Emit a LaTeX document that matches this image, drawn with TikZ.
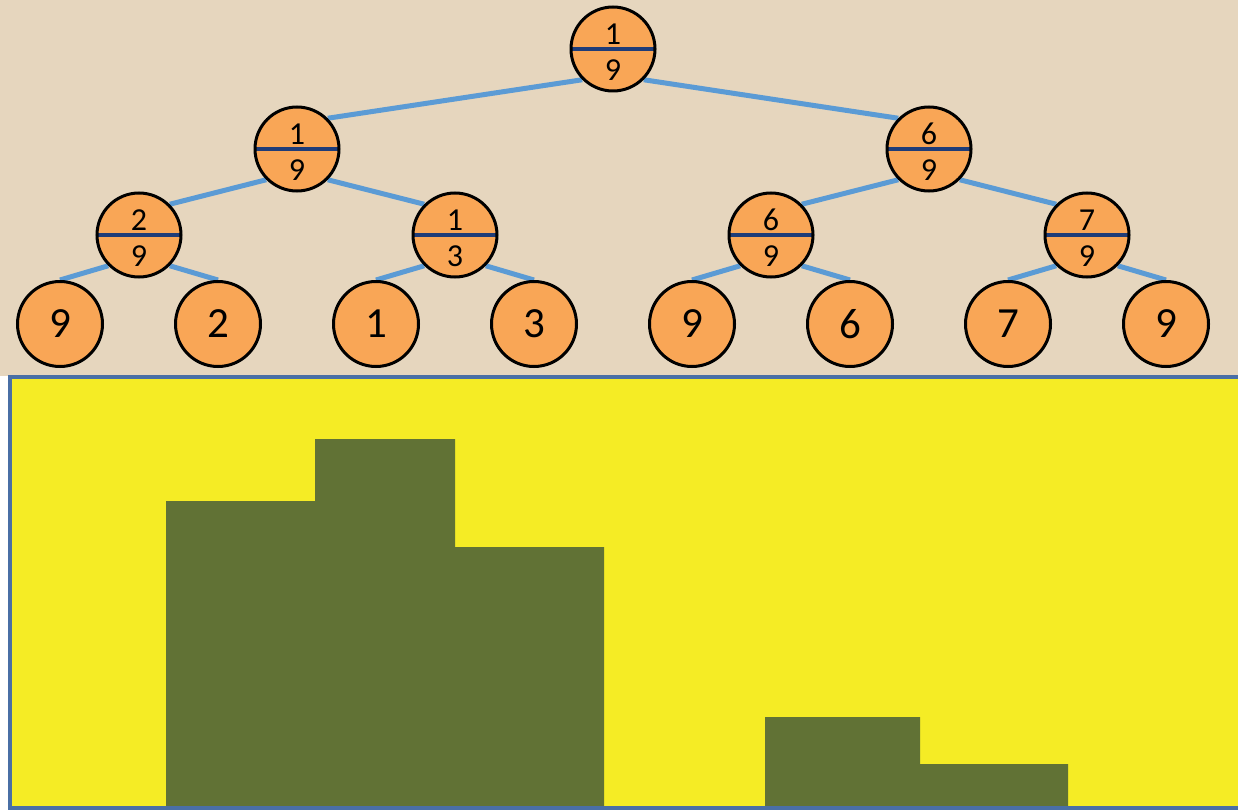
\documentclass[tikz,border=0pt]{standalone}
\usepackage{fontspec}
\setmainfont{Carlito}
\usetikzlibrary{backgrounds}

\definecolor{sand}{HTML}{E6D6BE}
\definecolor{peach}{HTML}{F9A656}
\definecolor{linkblue}{HTML}{5B9BD5}
\definecolor{navy}{HTML}{1F3C78}
\definecolor{lemon}{HTML}{F5EC25}
\definecolor{olive}{HTML}{617235}
\definecolor{frame}{HTML}{4A6FA5}

% inner tree node: circle with divider, upper and lower value
\newcommand{\halfnode}[4]{%
  \node[half] (#1) at (#2) {};
  \node[num] (#1-t) at ([yshift=15pt]#1.center) {#3};
  \node[num] (#1-b) at ([yshift=-21pt]#1.center) {#4};
}

\begin{document}
\begin{tikzpicture}[x=1pt,y=-1pt,
    half/.style={circle,draw=black,line width=3pt,fill=peach,minimum size=84pt,inner sep=0pt,
      path picture={\draw[navy,line width=3.8pt] (path picture bounding box.west) -- (path picture bounding box.east);}},
    num/.style={inner sep=0pt,font=\fontsize{32}{36}\selectfont},
    leaf/.style={circle,draw=black,line width=3pt,fill=peach,minimum size=85pt,inner sep=0pt,
      font=\fontsize{43}{48}\selectfont},
    link/.style={linkblue,line width=5pt}]
  \useasboundingbox (0,0) rectangle (1238,810);

  % lower panel
  \fill[lemon] (10,377) rectangle (1260,808);
  \fill[olive] (166,808) |- (315,501) |- (455,439) |- (604,547) -- (604,808) -- cycle;
  \fill[olive] (765,808) |- (920,717) |- (1068,764) -- (1068,808) -- cycle;
  \draw[frame,line width=3.5pt] (10,377) rectangle (1260,808);

  % tree
  \halfnode{r}{613,49}{1}{9}
  \halfnode{a}{297,149}{1}{9}
  \halfnode{b}{929,149}{6}{9}
  \halfnode{c}{139,235}{2}{9}
  \halfnode{d}{455,235}{1}{3}
  \halfnode{e}{771,235}{6}{9}
  \halfnode{f}{1087,235}{7}{9}

  \node[leaf] (l1) at (60,324) {9};
  \node[leaf] (l2) at (218,324) {2};
  \node[leaf] (l3) at (376,324) {1};
  \node[leaf] (l4) at (534,324) {3};
  \node[leaf] (l5) at (692,324) {9};
  \node[leaf] (l6) at (850,324) {6};
  \node[leaf] (l7) at (1008,324) {7};
  \node[leaf] (l8) at (1166,324) {9};

  \begin{scope}[on background layer]
    \fill[sand] (0,0) rectangle (1238,376);
    \path[link]
      (r.south west) edge (a.north east)
      (r.south east) edge (b.north west)
      (a.south west) edge (c.north east)
      (a.south east) edge (d.north west)
      (b.south west) edge (e.north east)
      (b.south east) edge (f.north west)
      (c.south west) edge (l1.north)
      (c.south east) edge (l2.north)
      (d.south west) edge (l3.north)
      (d.south east) edge (l4.north)
      (e.south west) edge (l5.north)
      (e.south east) edge (l6.north)
      (f.south west) edge (l7.north)
      (f.south east) edge (l8.north);
  \end{scope}
\end{tikzpicture}
\end{document}
